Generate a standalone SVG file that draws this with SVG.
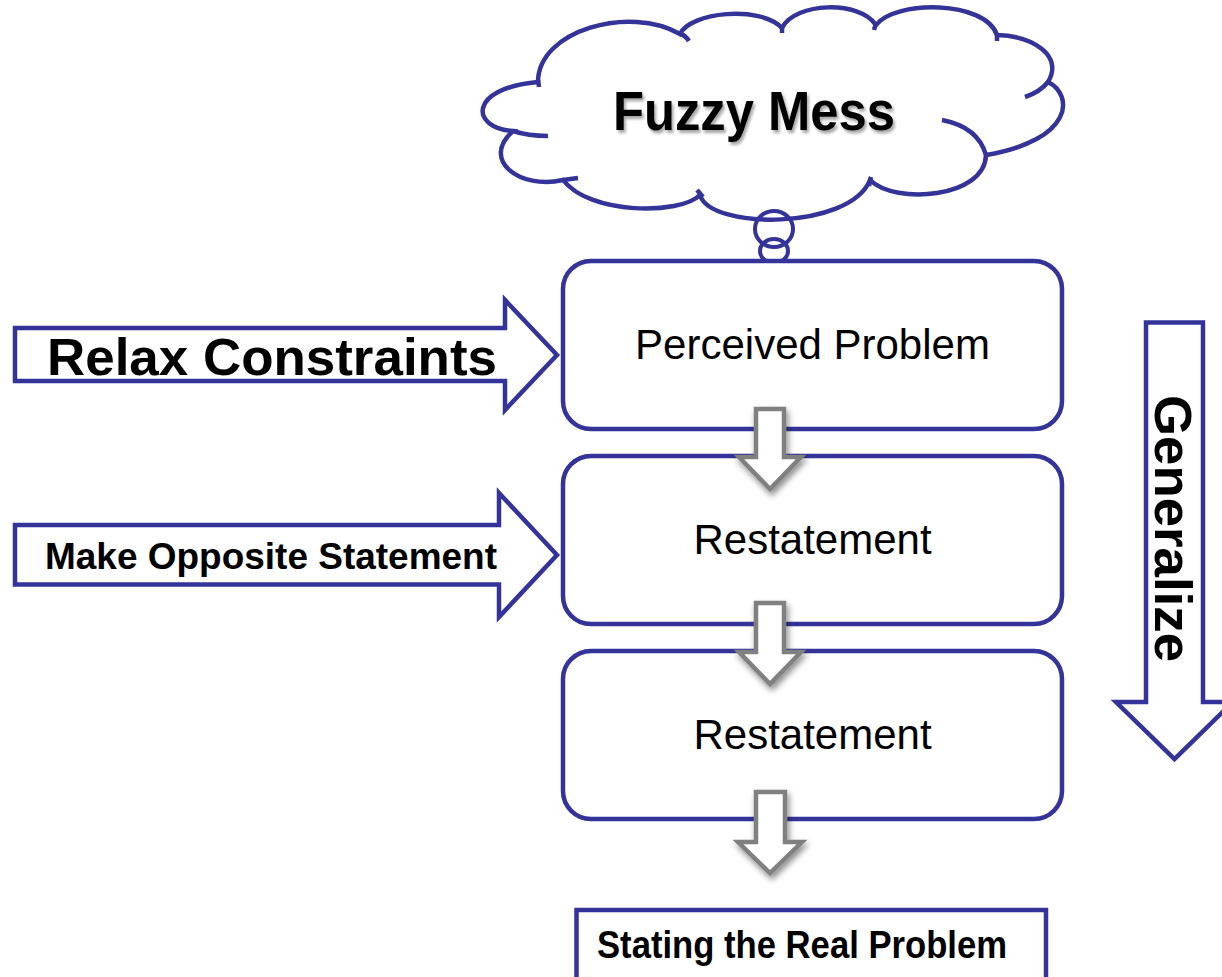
<svg xmlns="http://www.w3.org/2000/svg" width="1222" height="977" viewBox="0 0 1222 977">
<defs>
<style>
.nv{fill:#fff;stroke:#333399;stroke-width:4.5;stroke-linejoin:miter}
.tl{fill:none;stroke:#333399;stroke-width:4.5;stroke-linecap:butt}
.ga{fill:#fff;stroke:#808080;stroke-width:4.5;stroke-linejoin:miter;filter:url(#sh)}
.b{font-family:"Liberation Sans",Arial,sans-serif;font-weight:bold;fill:#000}
.r{font-family:"Liberation Sans",Arial,sans-serif;font-size:42px;fill:#000;text-anchor:middle}
</style>
<filter id="sh" x="-30%" y="-30%" width="160%" height="160%">
<feDropShadow dx="2" dy="4" stdDeviation="3" flood-color="#000" flood-opacity="0.45"/>
</filter>
<filter id="ts" x="-10%" y="-20%" width="120%" height="140%">
<feDropShadow dx="2" dy="3" stdDeviation="1.6" flood-color="#000" flood-opacity="0.35"/>
</filter>
</defs>
<rect width="1222" height="977" fill="#fff"/>

<g id="cloud">
<path class="nv" d="M538,82 C538,30 630,5 680,34 C690,12 760,5 782,28 C795,2 860,0 876,25 C895,0 985,0 997,35 C1032,36 1064,55 1048,82 C1074,95 1074,140 986,155 C985,198 895,205 870,180 C850,230 710,230 700,195 C680,215 590,215 563,180 C520,190 480,160 513,131 C470,128 468,88 538,82 Z"/>
<path class="tl" d="M513,131 Q528,136 548,136 M563,180 L578,178 M697,190 L703,197 M871,177 L869,186 M986,155 Q978,127 942,120 M1048,82 Q1040,92 1025,97 M997,33 L997,41 M876,23 L874,30 M782,26 L782,33 M679,33 Q685,35 689,41 M538,80 L539,87"/>
<ellipse cx="774" cy="229" rx="19" ry="18" fill="none" stroke="#333399" stroke-width="4"/>
<ellipse cx="774" cy="251" rx="14" ry="12" fill="none" stroke="#333399" stroke-width="4"/>
<text class="b" x="613" y="130" font-size="56" textLength="282" lengthAdjust="spacingAndGlyphs" filter="url(#ts)">Fuzzy Mess</text>
</g>

<g id="relax">
<path class="nv" d="M15,328 L505,328 L505,300 L557,355 L505,410 L505,381 L15,381 Z"/>
<text class="b" x="47" y="375" font-size="52" textLength="450" lengthAdjust="spacingAndGlyphs">Relax Constraints</text>
</g>

<g id="opposite">
<path class="nv" d="M15,525 L499,525 L499,493 L557,555 L499,617 L499,584.5 L15,584.5 Z"/>
<text class="b" x="45" y="569" font-size="37" textLength="452" lengthAdjust="spacingAndGlyphs">Make Opposite Statement</text>
</g>

<g id="generalize">
<path class="nv" d="M1146,322.5 L1203,322.5 L1203,702 L1233,702 L1174.5,759 L1116,702 L1146,702 Z"/>
<text class="b" transform="translate(1155,395) rotate(90)" font-size="52" textLength="267" lengthAdjust="spacingAndGlyphs">Generalize</text>
</g>

<g id="perceived">
<rect class="nv" x="563" y="261" width="499" height="168" rx="28"/>
<text class="r" x="812.5" y="359">Perceived Problem</text>
</g>

<g id="restatement1">
<rect class="nv" x="563" y="456" width="499" height="168" rx="28"/>
<text class="r" x="812.5" y="554">Restatement</text>
</g>

<g id="restatement2">
<rect class="nv" x="563" y="651" width="499" height="168" rx="28"/>
<text class="r" x="812.5" y="749">Restatement</text>
</g>

<g id="real">
<rect x="576.5" y="910" width="469.5" height="100" fill="#fff" stroke="#333399" stroke-width="4.5"/>
<text class="b" x="597" y="958" font-size="39" textLength="410" lengthAdjust="spacingAndGlyphs">Stating the Real Problem</text>
</g>

<g id="connectors">
<path class="ga" d="M756,409 L784,409 L784,457 L801,457 L770,489 L739,457 L756,457 Z"/>
<path class="ga" d="M756,603 L784,603 L784,652 L801,652 L770,684 L739,652 L756,652 Z"/>
<path class="ga" d="M756,792 L785,792 L785,842 L802,842 L770,873 L738,842 L756,842 Z"/>
</g>
</svg>
